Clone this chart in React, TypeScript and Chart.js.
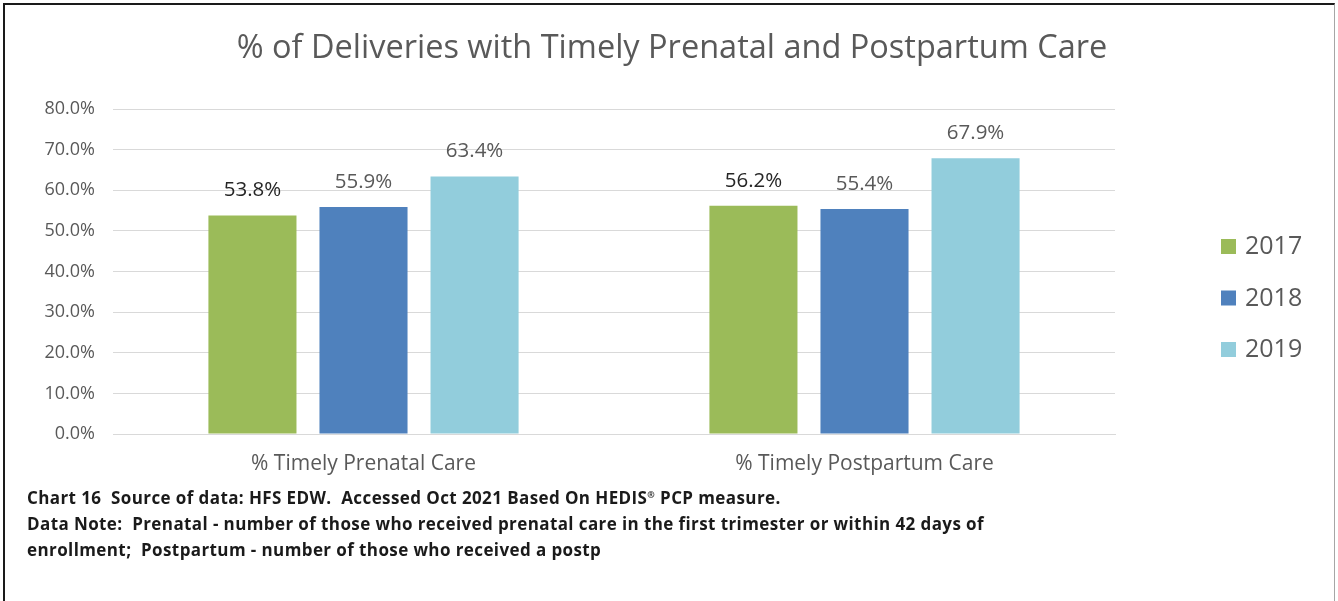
import React, { useEffect, useRef } from "react";
import { Chart, registerables } from "chart.js";

Chart.register(...registerables);

const categories = ["% Timely Prenatal Care", "% Timely Postpartum Care"];
const seriesNames = ["2017", "2018", "2019"];
const values2017 = [53.8, 56.2];
const values2018 = [55.9, 55.4];
const values2019 = [63.4, 67.9];
const seriesColors = ["#9bbb59", "#4f81bd", "#92cddc"];
const yTicks = [0, 10, 20, 30, 40, 50, 60, 70, 80];

const titleText = "% of Deliveries with Timely Prenatal and Postpartum Care";
const FONT = "'Open Sans', Lato, sans-serif";

const labelPlugin = {
  id: "barLabels",
  afterDatasetsDraw(chart: any) {
    const ctx = chart.ctx;
    ctx.save();
    ctx.font = `20.5px ${FONT}`;
    ctx.textAlign = "center";
    ctx.textBaseline = "alphabetic";
    chart.data.datasets.forEach((ds: any, i: number) => {
      const meta = chart.getDatasetMeta(i);
      meta.data.forEach((el: any, j: number) => {
        ctx.fillStyle = i === 0 ? "#262626" : "#595959";
        ctx.fillText(ds.data[j].toFixed(1) + "%", el.x, el.y - 19);
      });
    });
    ctx.restore();
  },
};

const legendPlugin = {
  id: "sideLegend",
  afterDraw(chart: any) {
    const ctx = chart.ctx;
    ctx.save();
    ctx.font = `25px ${FONT}`;
    ctx.textBaseline = "middle";
    ctx.textAlign = "left";
    chart.data.datasets.forEach((ds: any, i: number) => {
      const cy = 246 + i * 51.5;
      ctx.fillStyle = ds.backgroundColor;
      ctx.fillRect(1221, cy - 7, 15, 15);
      ctx.fillStyle = "#595959";
      ctx.fillText(ds.label, 1245, cy + 1);
    });
    ctx.restore();
  },
};

export default function App() {
  const ref = useRef<HTMLCanvasElement | null>(null);
  useEffect(() => {
    if (!ref.current) return;
    const chart = new Chart(ref.current, {
      type: "bar",
      data: {
        labels: categories,
        datasets: [values2017, values2018, values2019].map((d, i) => ({
          label: seriesNames[i],
          data: d,
          backgroundColor: seriesColors[i],
          categoryPercentage: 0.665,
          barPercentage: 0.793,
        })),
      },
      options: {
        responsive: false,
        animation: false,
        devicePixelRatio: 1,
        layout: { padding: { left: 0, top: 109, right: 223, bottom: 0 } },
        plugins: {
          legend: { display: false },
          title: { display: false },
          tooltip: { enabled: false },
        },
        scales: {
          x: {
            grid: { display: false, drawTicks: false },
            border: { display: true, color: "#d9d9d9", width: 1 },
            ticks: { color: "#595959", font: { family: FONT, size: 21 }, padding: 17 },
            afterFit: (s: any) => {
              s.height = 601 - 434;
            },
          },
          y: {
            min: 0,
            max: 80,
            afterBuildTicks: (s: any) => {
              s.ticks = yTicks.map((v) => ({ value: v }));
            },
            grid: { color: "#d9d9d9", lineWidth: 1, drawTicks: false },
            border: { display: false },
            ticks: {
              color: "#595959",
              font: { family: FONT, size: 18 },
              padding: 18,
              callback: (v: any) => Number(v).toFixed(1) + "%",
            },
            afterFit: (s: any) => {
              s.width = 113;
            },
          },
        },
      },
      plugins: [labelPlugin, legendPlugin],
    } as any);
    return () => chart.destroy();
  }, []);

  return (
    <div style={{ position: "fixed", left: 0, top: 0, width: 1338, height: 601, background: "#fff", overflow: "hidden" }}>
      <div
        style={{
          position: "absolute",
          left: 3,
          top: 3,
          width: 1329,
          height: 610,
          borderTop: "2px solid #1a1a1a",
          borderLeft: "2px solid #1a1a1a",
          borderRight: "1px solid #a6a6a6",
        }}
      />
      <canvas ref={ref} width={1338} height={601} style={{ position: "absolute", left: 0, top: 0 }} />
      <div
        style={{
          position: "absolute",
          left: 0,
          width: 1344,
          top: 25,
          textAlign: "center",
          fontFamily: FONT,
          fontSize: 32.5,
          color: "#595959",
          lineHeight: "42px",
        }}
      >
        {titleText}
      </div>
      <div
        style={{
          position: "absolute",
          left: 27,
          top: 482,
          fontFamily: FONT,
          fontWeight: 700,
          fontSize: 17,
          letterSpacing: "0.4px",
          lineHeight: "26px",
          color: "#1a1a1a",
          whiteSpace: "pre",
        }}
      >
        <div>
          Chart 16  Source of data: HFS EDW.  Accessed Oct 2021 Based On HEDIS
          <span style={{ fontSize: 9, verticalAlign: "6px" }}>®</span> PCP measure.
        </div>
        <div>Data Note:  Prenatal - number of those who received prenatal care in the first trimester or within 42 days of</div>
        <div>enrollment;  Postpartum - number of those who received a postp</div>
      </div>
    </div>
  );
}
